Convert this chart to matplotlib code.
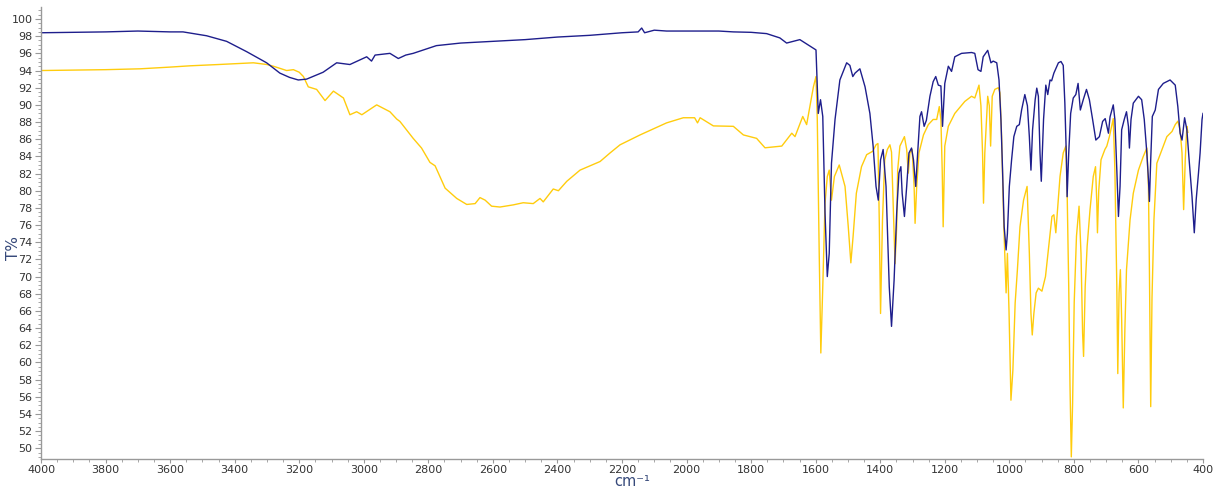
import numpy as np
import matplotlib
matplotlib.use('Agg')
import matplotlib.pyplot as plt
from matplotlib.ticker import MultipleLocator

# IR spectra, wavenumber (cm-1) / transmittance (%)
BLUE_WN = [4000, 3900, 3800, 3700, 3600, 3560, 3487, 3425, 3363, 3301, 3260, 3230, 3203, 3177,
           3126, 3084, 3043, 2991, 2976, 2965, 2919, 2893, 2870, 2847, 2775, 2700, 2600, 2500,
           2400, 2300, 2268, 2200, 2150, 2139, 2130, 2100, 2062, 2000, 1900, 1855, 1800, 1752,
           1711, 1690, 1670, 1649, 1628, 1607, 1599, 1592, 1585, 1578, 1571, 1564, 1558, 1551,
           1540, 1525, 1504, 1494, 1485, 1478, 1463, 1447, 1432, 1422, 1413, 1406, 1399, 1391,
           1382, 1372, 1365, 1357, 1349, 1342, 1336, 1332, 1325, 1318, 1311, 1303, 1297, 1290,
           1284, 1277, 1272, 1264, 1257, 1246, 1236, 1228, 1220, 1212, 1207, 1200, 1189, 1179,
           1169, 1148, 1117, 1107, 1097, 1088, 1081, 1067, 1057, 1050, 1039, 1032, 1026, 1021,
           1016, 1010, 1006, 1000, 993, 986, 977, 969, 962, 952, 944, 938, 933, 928, 920, 915,
           910, 905, 901, 894, 887, 881, 874, 869, 862, 848, 840, 833, 828, 823, 821, 816, 810,
           802, 794, 787, 780, 771, 761, 752, 742, 732, 721, 711, 703, 693, 688, 678, 673, 667,
           662, 657, 652, 644, 637, 631, 628, 623, 616, 600, 590, 582, 574, 569, 566, 562, 557,
           548, 538, 523, 502, 486, 478, 471, 465, 457, 450, 443, 434, 427, 421, 414, 409, 403,
           400]
BLUE_T = [98.4, 98.45, 98.5, 98.6, 98.5, 98.5, 98.05, 97.4, 96.2, 94.9, 93.7, 93.2, 92.9, 93.0,
          93.8, 94.9, 94.7, 95.6, 95.1, 95.8, 96.0, 95.4, 95.8, 96.0, 96.9, 97.2, 97.4, 97.6,
          97.9, 98.1, 98.2, 98.4, 98.5, 98.95, 98.4, 98.7, 98.6, 98.6, 98.6, 98.5, 98.45, 98.3,
          97.8, 97.2, 97.4, 97.6, 97.1, 96.6, 96.4, 89.0, 90.6, 88.65, 77.4, 70.0, 72.7, 83.2,
          88.3, 92.9, 94.9, 94.6, 93.3, 93.7, 94.2, 92.1, 89.0, 85.2, 80.5, 78.9, 83.6, 84.8,
          80.5, 68.8, 64.2, 69.6, 77.4, 82.05, 82.8, 79.7, 77.0, 80.5, 84.4, 84.97, 83.6, 80.5,
          84.4, 88.65, 89.2, 87.5, 88.2, 91.0, 92.7, 93.3, 92.3, 92.2, 87.5, 92.5, 94.5, 93.9,
          95.6, 96.0, 96.1, 96.0, 94.1, 93.9, 95.6, 96.35, 94.9, 95.1, 94.9, 92.9, 88.3, 82.4,
          75.8, 73.1, 75.0, 80.5, 83.6, 86.3, 87.5, 87.7, 89.4, 91.2, 89.9, 86.3, 82.4, 87.1, 90.6, 91.95,
          91.0, 84.4, 81.1, 88.3, 92.3, 91.2, 92.9, 92.8, 93.7, 94.9, 95.05, 94.6, 90.2, 83.6, 79.3, 84.4, 89.0,
          90.8, 91.2, 92.5, 89.4, 90.6, 91.8, 90.6, 88.3, 85.9, 86.3, 88.07, 88.4, 86.7, 88.6, 90.0, 88.3, 82.4,
          77.0, 80.5, 87.1, 88.3, 89.2, 87.5, 84.97, 88.3, 90.2, 91.0, 90.6, 88.3, 84.4, 81.3, 78.75, 83.6, 88.65,
          89.4, 91.8, 92.5, 92.9, 92.3, 89.8, 86.7, 85.9, 88.5, 87.1, 83.6, 79.3, 75.1, 79.0, 82.05, 84.4, 88.3,
          89.0]

YELLOW_WN = [4000, 3900, 3800, 3693, 3600, 3538, 3450, 3342, 3300, 3280, 3239, 3218, 3200, 3187,
             3172, 3146, 3120, 3094, 3063, 3043, 3022, 3006, 2960, 2919, 2898, 2888, 2847, 2821,
             2795, 2779, 2748, 2712, 2681, 2655, 2640, 2624, 2604, 2578, 2537, 2506, 2475, 2454,
             2444, 2413, 2397, 2371, 2330, 2299, 2268, 2237, 2206, 2144, 2062, 2010, 1975, 1966,
             1958, 1917, 1855, 1824, 1783, 1757, 1705, 1674, 1664, 1640, 1628, 1607, 1599, 1595,
             1589, 1584, 1578, 1571, 1564, 1558, 1551, 1542, 1527, 1509, 1499, 1491, 1484, 1474,
             1458, 1442, 1423, 1413, 1407, 1403, 1399, 1393, 1386, 1378, 1370, 1365, 1360, 1354,
             1349, 1346, 1339, 1325, 1318, 1313, 1308, 1301, 1295, 1292, 1287, 1280, 1266, 1251,
             1236, 1225, 1217, 1212, 1208, 1205, 1200, 1189, 1169, 1138, 1117, 1107, 1094, 1088,
             1083, 1080, 1076, 1067, 1062, 1058, 1053, 1045, 1034, 1029, 1024, 1017, 1010, 1006,
             1001, 995, 989, 982, 975, 967, 956, 945, 938, 933, 929, 924, 917, 910, 899, 888, 878,
             868, 862, 856, 851, 843, 833, 825, 821, 816, 812, 808, 804, 799, 792, 784, 778, 773,
             770, 765, 759, 750, 740, 733, 729, 727, 723, 716, 704, 698, 690, 683, 678, 673, 667,
             664, 660, 656, 652, 647, 642, 637, 626, 616, 600, 585, 574, 569, 566, 562, 558, 552,
             543, 527, 512, 496, 486, 478, 471, 465, 460, 455, 450, 447]
YELLOW_T = [94.0, 94.05, 94.1, 94.2, 94.4, 94.55, 94.7, 94.9, 94.7, 94.5, 94.0, 94.1, 93.8, 93.3,
            92.1, 91.8, 90.5, 91.6, 90.8, 88.85, 89.2, 88.85, 90.0, 89.2, 88.35, 88.07, 86.1, 84.97,
            83.3, 82.9, 80.3, 79.1, 78.4, 78.5, 79.2, 78.9, 78.2, 78.1, 78.35, 78.6, 78.5, 79.1,
            78.7, 80.2, 80.0, 81.1, 82.4, 82.9, 83.4, 84.4, 85.35, 86.5, 87.9, 88.5, 88.5, 87.9,
            88.5, 87.55, 87.5, 86.5, 86.1, 85.0, 85.2, 86.7, 86.3, 88.65, 87.7, 92.1, 93.3, 88.3,
            72.7, 61.1, 68.8, 78.55, 81.65, 82.4, 78.9, 81.65, 83.0, 80.5, 75.8, 71.6, 74.7, 79.7,
            82.8, 84.2, 84.6, 85.35, 85.5, 76.6, 65.7, 76.6, 83.6, 84.8, 85.35, 84.5, 78.55, 71.5,
            75.8, 82.4, 85.2, 86.3, 84.8, 82.05, 84.4, 84.8, 80.5, 76.2, 80.5, 84.4, 86.5, 87.7,
            88.3, 88.3, 89.8, 88.3, 82.4, 75.8, 85.2, 87.5, 89.0, 90.4, 91.0, 90.8, 92.3, 89.9,
            84.4, 78.55, 84.4, 91.0, 89.9, 85.2, 91.0, 91.8, 92.0, 91.4, 86.3, 75.8, 68.1, 72.7,
            66.0, 55.6, 59.1, 66.9, 70.8, 75.8, 78.9, 80.5, 72.7, 65.7, 63.2, 65.7, 68.1, 68.65, 68.3, 70.0, 73.5,
            77.0, 77.2, 75.1, 77.6, 81.65, 84.4, 85.2, 80.0, 68.8, 57.2, 49.0, 55.2, 67.0, 74.7, 78.2, 72.7, 63.4,
            60.7, 68.8, 73.5, 77.8, 81.65, 82.8, 78.55, 75.1, 80.0, 83.6, 84.8, 85.2, 86.3, 87.5, 88.4, 82.4, 68.8,
            58.7, 68.1, 70.8, 65.0, 54.7, 63.9, 70.8, 76.6, 79.7, 82.4, 84.0, 84.97, 80.5, 70.8, 54.85, 67.5, 76.6,
            83.2, 84.8, 86.3, 86.9, 87.7, 88.1, 87.1, 84.4, 77.8, 83.6, 87.5, 86.8]

BLUE = '#1e1e8c'
YELLOW = '#ffcc0d'
LABEL_COLOR = '#36497a'

fig = plt.figure(figsize=(12.13, 4.87), dpi=100)
ax = fig.add_axes([41 / 1213, 28 / 487, 1162 / 1213, 452 / 487])

ax.plot(YELLOW_WN, YELLOW_T, color=YELLOW, linewidth=1.0)
ax.plot(BLUE_WN, BLUE_T, color=BLUE, linewidth=1.0)

ax.set_xlim(4000, 400)
ax.set_ylim(48.75, 101.4)

ax.xaxis.set_major_locator(MultipleLocator(200))
ax.xaxis.set_minor_locator(MultipleLocator(50))
ax.yaxis.set_minor_locator(MultipleLocator(0.5))
ax.set_yticks(np.arange(50, 101, 2))

for side in ('top', 'right'):
    ax.spines[side].set_visible(False)
for side in ('left', 'bottom'):
    ax.spines[side].set_color('#999999')
    ax.spines[side].set_linewidth(1.0)

ax.tick_params(axis='both', which='major', length=4, color='#999999',
               labelsize=8, labelcolor='#333333', pad=2)
ax.tick_params(axis='x', which='major', length=3, pad=1)
ax.tick_params(axis='both', which='minor', length=2, color='#999999')

# axis titles placed where the reference has them
fig.text(13 / 1213, 0.49, 'T%', color=LABEL_COLOR, fontsize=11,
         rotation=90, ha='center', va='center')
fig.text(0.521, 1.5 / 487, 'cm\u207b\u00b9', color=LABEL_COLOR, fontsize=10.5,
         ha='center', va='baseline')

fig.savefig('out.png', dpi=100)
